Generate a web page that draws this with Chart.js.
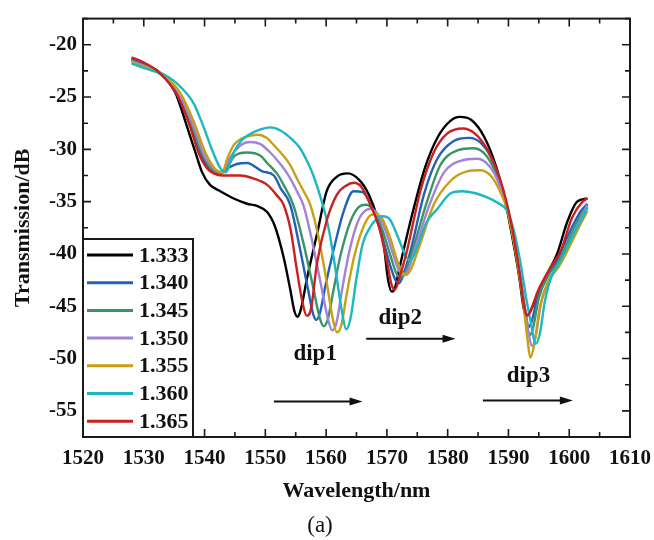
<!DOCTYPE html>
<html>
<head>
<meta charset="utf-8">
<script src="https://cdn.jsdelivr.net/npm/chart.js@4.4.1/dist/chart.umd.min.js"></script>
<style>
  html, body { margin: 0; padding: 0; background: #fff; }
  #wrap { width: 654px; height: 540px; }
</style>
</head>
<body>
<div id="wrap"><canvas id="spectrum-chart"></canvas></div>
<script>
// refractive index of each curve, legend order
const indexLabels = ['1.333', '1.340', '1.345', '1.350', '1.355', '1.360', '1.365'];
const lineColors = ['#000000', '#2161b8', '#3b9467', '#a283d8', '#c7a014', '#1cb8bf', '#cc1f1f'];

// wavelength (nm) / transmission (dB)
const wl1333 = [1528, 1530, 1532, 1533.5, 1535.2, 1537.1, 1538.5, 1539.6, 1540.9, 1542.6, 1544.8, 1547, 1548.6, 1550.3, 1551.6, 1553, 1554.1, 1554.8, 1555.3, 1555.8, 1556.9, 1558.5, 1560.1, 1561.8, 1563.6, 1565.4, 1567, 1568.4, 1569.5, 1570.2, 1570.8, 1571.3, 1572.2, 1574.3, 1576.3, 1578.4, 1580.4, 1582, 1583.9, 1586, 1588, 1589.4, 1590.7, 1591.8, 1592.5, 1592.9, 1593.5, 1594.7, 1596.4, 1598, 1599.7, 1601.3, 1603];
const tr1333 = [-21.3, -21.8, -22.4, -23.1, -24.6, -27.8, -30.3, -32.2, -33.4, -34.0, -34.7, -35.2, -35.4, -36.0, -37.4, -40.3, -43.4, -45.5, -46.0, -45.4, -42.2, -38.1, -34.0, -32.6, -32.3, -32.9, -34.3, -36.5, -39.2, -42.5, -43.6, -43.3, -41.0, -35.9, -31.7, -28.8, -27.3, -26.9, -27.2, -28.8, -31.7, -34.8, -38.6, -42.3, -45.2, -45.9, -45.6, -44.0, -41.9, -40.0, -36.9, -35.0, -34.7];

const wl1340 = [1528, 1530, 1532, 1533.5, 1535.5, 1537.5, 1539.2, 1540.8, 1542.4, 1543.5, 1545.3, 1547, 1549.5, 1551.4, 1552.5, 1554.1, 1555.7, 1557.1, 1557.9, 1558.4, 1559, 1559.9, 1561.2, 1562.9, 1564.5, 1566, 1567.8, 1569.3, 1570.6, 1571.5, 1572, 1572.8, 1573.9, 1576.1, 1578.3, 1581, 1583.5, 1585.5, 1587.5, 1589.3, 1590.6, 1591.9, 1592.8, 1593.3, 1593.8, 1594.9, 1596.5, 1598, 1600, 1601.8, 1603];
const tr1340 = [-21.4, -21.9, -22.5, -23.2, -24.8, -27.5, -30.2, -31.8, -32.3, -31.9, -31.4, -31.3, -32.1, -32.5, -33.7, -35.3, -39.5, -43.6, -45.8, -46.3, -45.6, -43.0, -39.7, -35.9, -34.0, -34.1, -35.9, -38.5, -41.2, -42.6, -42.8, -41.8, -39.7, -34.3, -30.9, -29.2, -28.9, -29.4, -31.2, -34.5, -37.8, -42.0, -45.5, -47.0, -46.5, -43.9, -42.0, -40.6, -38.0, -36.0, -35.2];

const wl1345 = [1528, 1530, 1532, 1533.5, 1535.7, 1537.8, 1539.6, 1541.2, 1542.8, 1543.8, 1545, 1547, 1549.2, 1550.3, 1551.9, 1553, 1554.6, 1556.2, 1557.8, 1559, 1559.6, 1560.3, 1561.2, 1562.3, 1564, 1565.4, 1566.5, 1567.8, 1569.2, 1570.5, 1571.6, 1572.3, 1573, 1574.3, 1576.6, 1578.8, 1581.6, 1584.3, 1586.5, 1588.3, 1589.6, 1590.9, 1592.1, 1592.9, 1593.4, 1594, 1595, 1596.6, 1598.2, 1600.2, 1601.9, 1603];
const tr1345 = [-21.5, -22.0, -22.5, -23.2, -24.9, -27.6, -30.4, -31.9, -32.3, -31.6, -30.6, -30.3, -30.6, -31.3, -32.3, -33.4, -35.3, -38.8, -43.0, -46.2, -46.9, -46.2, -43.5, -40.3, -36.9, -35.5, -35.3, -35.8, -37.6, -40.0, -41.9, -42.3, -41.8, -39.5, -35.0, -31.5, -30.1, -29.9, -30.7, -32.8, -35.3, -38.8, -43.0, -46.2, -47.8, -47.2, -44.2, -42.0, -40.8, -38.3, -36.3, -35.5];

const wl1350 = [1528, 1530, 1532, 1533.5, 1535.8, 1538, 1540, 1541.6, 1542.9, 1543.8, 1544.8, 1546.2, 1547.5, 1549.2, 1550.8, 1552.2, 1553.6, 1555.2, 1556.3, 1557.6, 1559, 1560.3, 1561, 1561.7, 1562.6, 1563.8, 1565.3, 1566.6, 1567.4, 1568.5, 1569.8, 1571, 1572, 1572.7, 1573.5, 1575, 1577.2, 1579.4, 1582.1, 1584.9, 1587, 1588.6, 1589.8, 1591, 1592.2, 1593.1, 1593.9, 1594.5, 1595.4, 1596.8, 1598.3, 1600.3, 1602, 1603];
const tr1350 = [-21.6, -22.0, -22.5, -23.1, -24.8, -27.5, -30.6, -31.9, -32.2, -31.2, -30.3, -29.5, -29.3, -29.5, -30.3, -31.2, -32.3, -34.0, -35.4, -38.5, -42.5, -46.2, -47.3, -46.6, -43.5, -39.8, -36.8, -35.8, -35.7, -36.2, -37.8, -40.0, -41.6, -42.0, -41.5, -38.8, -35.0, -32.2, -31.1, -30.9, -31.7, -33.5, -35.5, -39.0, -43.3, -46.8, -48.8, -47.8, -44.6, -42.3, -41.0, -38.6, -36.5, -35.3];

const wl1355 = [1528, 1530, 1532, 1533.5, 1536, 1538.2, 1540.2, 1541.8, 1542.9, 1543.8, 1544.8, 1546, 1547.5, 1548.8, 1550.2, 1551.4, 1552.8, 1554.1, 1555.3, 1556.3, 1557.4, 1558.6, 1559.9, 1561.1, 1561.8, 1562.5, 1563.4, 1564.6, 1566, 1567.3, 1568.1, 1569.2, 1570.5, 1571.8, 1572.7, 1573.2, 1574, 1575.5, 1577.7, 1580.5, 1583.2, 1585.4, 1587.2, 1588.6, 1589.8, 1591.1, 1592.3, 1593.1, 1593.6, 1594.2, 1595.2, 1596.7, 1598.3, 1600.3, 1602, 1603];
const tr1355 = [-21.7, -22.1, -22.5, -23.0, -24.6, -27.3, -30.4, -31.9, -32.2, -30.8, -29.6, -29.0, -28.7, -28.6, -28.9, -29.6, -30.5, -31.5, -32.9, -34.0, -35.3, -38.0, -42.0, -46.2, -47.5, -46.8, -43.8, -40.3, -37.6, -36.3, -36.2, -36.6, -38.4, -40.8, -41.9, -42.0, -41.4, -39.0, -35.3, -33.0, -32.1, -32.0, -32.6, -34.0, -35.8, -39.5, -44.0, -48.0, -49.9, -48.8, -45.0, -42.5, -41.2, -39.0, -37.0, -35.9];

const wl1360 = [1528, 1530, 1532, 1533.2, 1536, 1538.2, 1539.8, 1541.2, 1542.6, 1543.5, 1544.2, 1544.8, 1546, 1547, 1549.2, 1550.8, 1552.5, 1554.3, 1555.6, 1557.1, 1557.9, 1559.3, 1560.5, 1561.6, 1562.6, 1563.3, 1564, 1565, 1566, 1567.4, 1569.3, 1570.5, 1571.9, 1573.2, 1573.9, 1575, 1576.5, 1578.3, 1580.5, 1582.4, 1584.6, 1586.5, 1588.2, 1589.8, 1590.9, 1592, 1593, 1593.6, 1594.5, 1595.2, 1596, 1597, 1598.6, 1600.4, 1602.2, 1603];
const tr1360 = [-21.8, -22.2, -22.6, -22.8, -24.0, -25.6, -27.8, -30.0, -31.8, -32.2, -31.3, -30.3, -29.2, -28.7, -28.1, -27.9, -28.2, -29.0, -29.8, -31.4, -32.5, -35.0, -37.8, -41.7, -45.5, -47.2, -46.2, -42.3, -39.1, -37.3, -36.4, -36.7, -38.5, -40.3, -40.6, -39.3, -37.0, -35.7, -34.2, -34.0, -34.2, -34.6, -35.1, -35.9, -37.8, -40.9, -44.5, -46.3, -48.6, -47.5, -44.5, -42.3, -40.6, -38.5, -36.5, -35.6];

const wl1365 = [1528, 1530, 1532, 1533.5, 1535.7, 1537.6, 1539, 1540.4, 1541.5, 1543, 1545.9, 1548.1, 1550.3, 1551.9, 1553, 1554.2, 1555.1, 1556.1, 1556.8, 1557.5, 1558.5, 1560.1, 1561.8, 1563.2, 1564.6, 1565.8, 1567.3, 1568.8, 1570.1, 1570.8, 1571.3, 1572.2, 1573.3, 1575.5, 1577.7, 1579.9, 1582.5, 1584.5, 1586.6, 1588.7, 1590.4, 1591.8, 1592.6, 1593, 1593.6, 1594.8, 1596.7, 1598.6, 1600.5, 1602.2, 1603];
const tr1365 = [-21.2, -21.7, -22.4, -23.2, -25.0, -27.8, -30.3, -31.8, -32.3, -32.5, -32.5, -32.8, -33.4, -34.4, -35.3, -37.8, -41.2, -44.6, -45.9, -45.3, -40.9, -36.8, -34.3, -33.5, -33.2, -33.6, -35.3, -37.6, -41.0, -43.0, -43.4, -42.0, -39.7, -34.0, -30.3, -28.5, -28.0, -28.5, -30.1, -33.0, -36.9, -41.7, -45.0, -45.9, -45.5, -43.6, -41.5, -39.7, -36.5, -35.0, -34.7];

const wavelengths = [wl1333, wl1340, wl1345, wl1350, wl1355, wl1360, wl1365];
const transmissions = [tr1333, tr1340, tr1345, tr1350, tr1355, tr1360, tr1365];

const xTicks = [1520, 1530, 1540, 1550, 1560, 1570, 1580, 1590, 1600, 1610];
const yTicks = [-55, -50, -45, -40, -35, -30, -25, -20];

// dip labels and shift arrows, in data units
const dipNames = ['dip1', 'dip2', 'dip3'];
const dipTextX = [1558.2, 1572.2, 1593.3];
const dipTextY = [-49.6, -46.1, -51.7];
const arrowFromX = [1551.4, 1566.6, 1585.8];
const arrowToX = [1566.0, 1581.3, 1600.6];
const arrowAtY = [-54.1, -48.1, -54.0];

const serif = '"Liberation Serif", "Times New Roman", serif';

const decorations = {
    id: 'decorations',
    afterDatasetsDraw(chart) {
        const {ctx, chartArea: a, scales: {x, y}} = chart;
        ctx.save();

        // inward ticks on all four sides
        ctx.strokeStyle = '#1a1a1a';
        ctx.lineWidth = 1.6;
        ctx.beginPath();
        for (let v = 1520; v <= 1610; v += 5) {
            const px = x.getPixelForValue(v);
            const len = v % 10 === 0 ? 8 : 5;
            ctx.moveTo(px, a.bottom); ctx.lineTo(px, a.bottom - len);
            ctx.moveTo(px, a.top); ctx.lineTo(px, a.top + len);
        }
        for (let v = -57.5; v <= -17.5; v += 2.5) {
            const py = y.getPixelForValue(v);
            const len = v % 5 === 0 ? 8 : 5;
            ctx.moveTo(a.left, py); ctx.lineTo(a.left + len, py);
            ctx.moveTo(a.right, py); ctx.lineTo(a.right - len, py);
        }
        ctx.stroke();

        ctx.lineWidth = 2;
        ctx.strokeRect(a.left, a.top, a.right - a.left, a.bottom - a.top);

        // legend box in the lower-left corner
        const boxTop = 239, boxRight = 193;
        ctx.fillStyle = '#fff';
        ctx.fillRect(a.left, boxTop, boxRight - a.left, a.bottom - boxTop);
        ctx.strokeRect(a.left, boxTop, boxRight - a.left, a.bottom - boxTop);
        ctx.font = 'bold 22px ' + serif;
        ctx.textBaseline = 'middle';
        ctx.textAlign = 'left';
        indexLabels.forEach((lab, i) => {
            const ly = 255 + i * 27.7;
            ctx.strokeStyle = lineColors[i];
            ctx.lineWidth = 3;
            ctx.beginPath();
            ctx.moveTo(a.left + 4, ly);
            ctx.lineTo(a.left + 50, ly);
            ctx.stroke();
            ctx.fillStyle = '#111';
            ctx.fillText(lab, a.left + 56, ly + 1);
        });

        // dip labels and arrows
        ctx.font = 'bold 23px ' + serif;
        ctx.fillStyle = '#111';
        ctx.strokeStyle = '#111';
        ctx.textAlign = 'center';
        dipNames.forEach((name, i) => {
            ctx.fillText(name, x.getPixelForValue(dipTextX[i]), y.getPixelForValue(dipTextY[i]));
            const x0 = x.getPixelForValue(arrowFromX[i]);
            const x1 = x.getPixelForValue(arrowToX[i]);
            const ay = y.getPixelForValue(arrowAtY[i]);
            ctx.lineWidth = 2;
            ctx.beginPath();
            ctx.moveTo(x0, ay);
            ctx.lineTo(x1 - 10, ay);
            ctx.stroke();
            ctx.beginPath();
            ctx.moveTo(x1, ay);
            ctx.lineTo(x1 - 13, ay - 4);
            ctx.lineTo(x1 - 13, ay + 4);
            ctx.closePath();
            ctx.fill();
        });

        // panel tag
        ctx.font = '23px ' + serif;
        ctx.fillText('(a)', 320, 526);
        ctx.restore();
    }
};

new Chart(document.getElementById('spectrum-chart').getContext('2d'), {
    type: 'line',
    data: {
        datasets: indexLabels.map((lab, i) => ({
            label: lab,
            data: wavelengths[i].map((w, j) => ({x: w, y: transmissions[i][j]})),
            borderColor: lineColors[i],
            backgroundColor: lineColors[i],
            borderWidth: 2.4,
            pointRadius: 0,
            cubicInterpolationMode: 'monotone',
            fill: false,
            order: indexLabels.length - i
        }))
    },
    options: {
        responsive: true,
        maintainAspectRatio: false,
        animation: false,
        layout: { padding: { top: 10, right: 24, left: 0, bottom: 0 } },
        plugins: {
            legend: { display: false },
            tooltip: { enabled: false }
        },
        scales: {
            x: {
                type: 'linear',
                min: 1520,
                max: 1610,
                afterBuildTicks: s => { s.ticks = xTicks.map(v => ({value: v})); },
                afterFit: s => { s.height = 103; s.paddingLeft = 0; s.paddingRight = 0; },
                grid: { display: false, drawTicks: false },
                border: { display: false },
                ticks: {
                    autoSkip: false,
                    maxRotation: 0,
                    padding: 9,
                    color: '#111',
                    font: { family: serif, size: 21, weight: 'bold' },
                    callback: v => String(v)
                },
                title: {
                    display: true,
                    text: 'Wavelength/nm',
                    color: '#111',
                    font: { family: serif, size: 22, weight: 'bold' },
                    padding: { top: 4, bottom: 35 }
                }
            },
            y: {
                min: -57.5,
                max: -17.5,
                afterBuildTicks: s => { s.ticks = yTicks.map(v => ({value: v})); },
                afterFit: s => { s.width = 83; },
                grid: { display: false, drawTicks: false },
                border: { display: false },
                ticks: {
                    padding: 6,
                    color: '#111',
                    font: { family: serif, size: 21, weight: 'bold' },
                    callback: v => String(v)
                },
                title: {
                    display: true,
                    text: 'Transmission/dB',
                    color: '#111',
                    font: { family: serif, size: 22, weight: 'bold' },
                    padding: { top: 10, bottom: 4 }
                }
            }
        }
    },
    plugins: [decorations]
});
</script>
</body>
</html>
